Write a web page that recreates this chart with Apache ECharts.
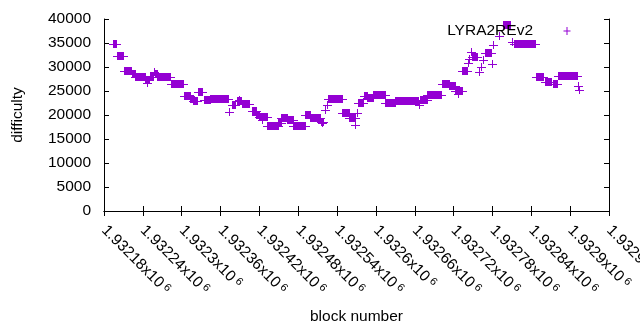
<!DOCTYPE html>
<html>
<head>
<meta charset="utf-8">
<script src="https://cdn.jsdelivr.net/npm/echarts@6/dist/echarts.min.js"></script>
<style>
  html, body { margin: 0; padding: 0; background: #fff; }
  #chart { width: 640px; height: 330px; }
</style>
</head>
<body>
<div id="chart"></div>
<script>
// runs of blocks that kept the same difficulty (single blocks have start == end)
var runStart = [1932194,1932200,1932211,1932223,1932228,1932244,1932246,1932251,1932257,1932259,
  1932262,1932283,1932303,1932313,1932317,1932325,1932334,1932344,1932373,1932378,
  1932385,1932389,1932393,1932409,1932415,1932419,1932424,1932432,1932449,1932453,
  1932463,1932472,1932490,1932498,1932515,1932517,1932521,1932524,1932526,1932548,
  1932558,1932568,1932571,1932572,1932582,1932586,1932595,1932614,1932629,1932667,
  1932668,1932679,1932702,1932713,1932722,1932727,1932733,1932742,1932744,1932747,
  1932748,1932759,1932762,1932765,1932768,1932779,1932781,1932790,1932796,1932810,
  1932813,1932847,1932861,1932873,1932881,1932912,1932913];
var runEnd = [1932199,1932209,1932222,1932228,1932243,1932250,1932246,1932256,1932257,1932262,
  1932282,1932302,1932313,1932317,1932324,1932331,1932344,1932371,1932373,1932382,
  1932392,1932389,1932404,1932415,1932419,1932432,1932424,1932449,1932453,1932463,
  1932472,1932490,1932498,1932514,1932518,1932517,1932521,1932524,1932548,1932558,
  1932568,1932568,1932571,1932580,1932586,1932595,1932614,1932629,1932665,1932667,
  1932679,1932700,1932713,1932722,1932733,1932727,1932741,1932742,1932744,1932747,
  1932756,1932759,1932762,1932765,1932778,1932779,1932781,1932790,1932807,1932810,
  1932846,1932858,1932870,1932880,1932911,1932912,1932913];
var difficulty = [34700,32300,29200,28500,27900,27300,26700,28000,29000,28500,
  27900,26400,24000,23400,22900,24800,23100,23300,20700,22100,
  22900,23200,22300,20900,20000,19500,19000,17700,18300,19300,
  18900,17700,20000,19300,18600,18300,21100,22100,23300,20400,
  19300,18000,20500,22600,24000,23500,24100,22400,22900,22000,
  23100,24200,26500,26000,24900,24400,29200,30900,31600,33100,
  32100,29000,30100,31500,32900,30600,34600,36500,38700,35200,
  34800,27900,26900,26500,28100,26000,25200];

var xTickLabels = ['1.93218','1.93224','1.9323','1.93236','1.93242','1.93248','1.93254',
  '1.9326','1.93266','1.93272','1.93278','1.93284','1.9329','1.93296'];

var xMin = 1932180, xMax = 1932960, xStep = 60;
var purple = '#9400D3';
var font = "'Liberation Sans', Arial, sans-serif";

var data = [];
for (var i = 0; i < runStart.length; i++) {
  data.push([runStart[i], runEnd[i], difficulty[i]]);
}

function renderItem(params, api) {
  var a = api.coord([api.value(0), api.value(2)]);
  var b = api.coord([api.value(1), api.value(2)]);
  var x0 = Math.round(a[0]), x1 = Math.round(b[0]), y = Math.round(a[1]);
  var st = { fill: purple };
  return {
    type: 'group',
    children: [
      { type: 'rect', shape: { x: x0 - 4, y: y, width: x1 - x0 + 9, height: 1 }, style: st },
      { type: 'rect', shape: { x: x0, y: y - 4, width: x1 - x0 + 1, height: 8 }, style: st }
    ]
  };
}

var line = { show: true, lineStyle: { color: '#000', width: 1 } };
var tick = { show: true, inside: true, length: 5, lineStyle: { color: '#000' } };

var chart = echarts.init(document.getElementById('chart'));
chart.setOption({
  animation: false,
  backgroundColor: '#fff',
  textStyle: { fontFamily: font },
  grid: { left: 104, right: 31, top: 19, bottom: 119, containLabel: false, outerBoundsMode: 'none' },
  legend: {
    right: 44, top: 23, padding: 0, align: 'right',
    itemWidth: 58, itemHeight: 8,
    textStyle: { fontFamily: font, fontSize: 15.5, color: '#000' },
    data: [{ name: 'LYRA2REv2', icon: 'path://M0,0L0,0M58,8L58,8M25.5,3.5h7v1h-7zM28.5,0h1v8h-1z' }]
  },
  xAxis: [{
    type: 'value', min: xMin, max: xMax, interval: xStep,
    name: 'block number', nameLocation: 'middle', nameGap: 98,
    nameTextStyle: { fontFamily: font, fontSize: 15.5, color: '#000' },
    axisLine: line, axisTick: tick, splitLine: { show: false },
    axisLabel: {
      rotate: -45, margin: 17, showMinLabel: true, showMaxLabel: true,
      formatter: function (v) {
        var k = Math.round((v - xMin) / xStep);
        return '{m|' + xTickLabels[k] + 'x10}{e| 6}';
      },
      rich: {
        m: { fontFamily: font, fontSize: 15.5, color: '#000' },
        e: { fontFamily: font, fontSize: 11, color: '#000', verticalAlign: 'top' }
      }
    }
  }, {
    type: 'value', position: 'top', min: xMin, max: xMax, interval: xStep,
    axisLine: line, axisTick: tick, axisLabel: { show: false }, splitLine: { show: false }
  }],
  yAxis: [{
    type: 'value', min: 0, max: 40000, interval: 5000,
    name: 'difficulty', nameLocation: 'middle', nameRotate: 90, nameGap: 78,
    nameTextStyle: { fontFamily: font, fontSize: 15.5, color: '#000' },
    axisLine: line, axisTick: tick, splitLine: { show: false },
    axisLabel: {
      fontFamily: font, fontSize: 15.5, color: '#000', margin: 13,
      formatter: function (v) { return String(v); }
    }
  }, {
    type: 'value', position: 'right', min: 0, max: 40000, interval: 5000,
    axisLine: line, axisTick: tick, axisLabel: { show: false }, splitLine: { show: false }
  }],
  series: [{
    name: 'LYRA2REv2',
    type: 'custom',
    renderItem: renderItem,
    itemStyle: { color: purple },
    encode: { x: [0, 1], y: 2 },
    data: data
  }]
});
</script>
</body>
</html>
